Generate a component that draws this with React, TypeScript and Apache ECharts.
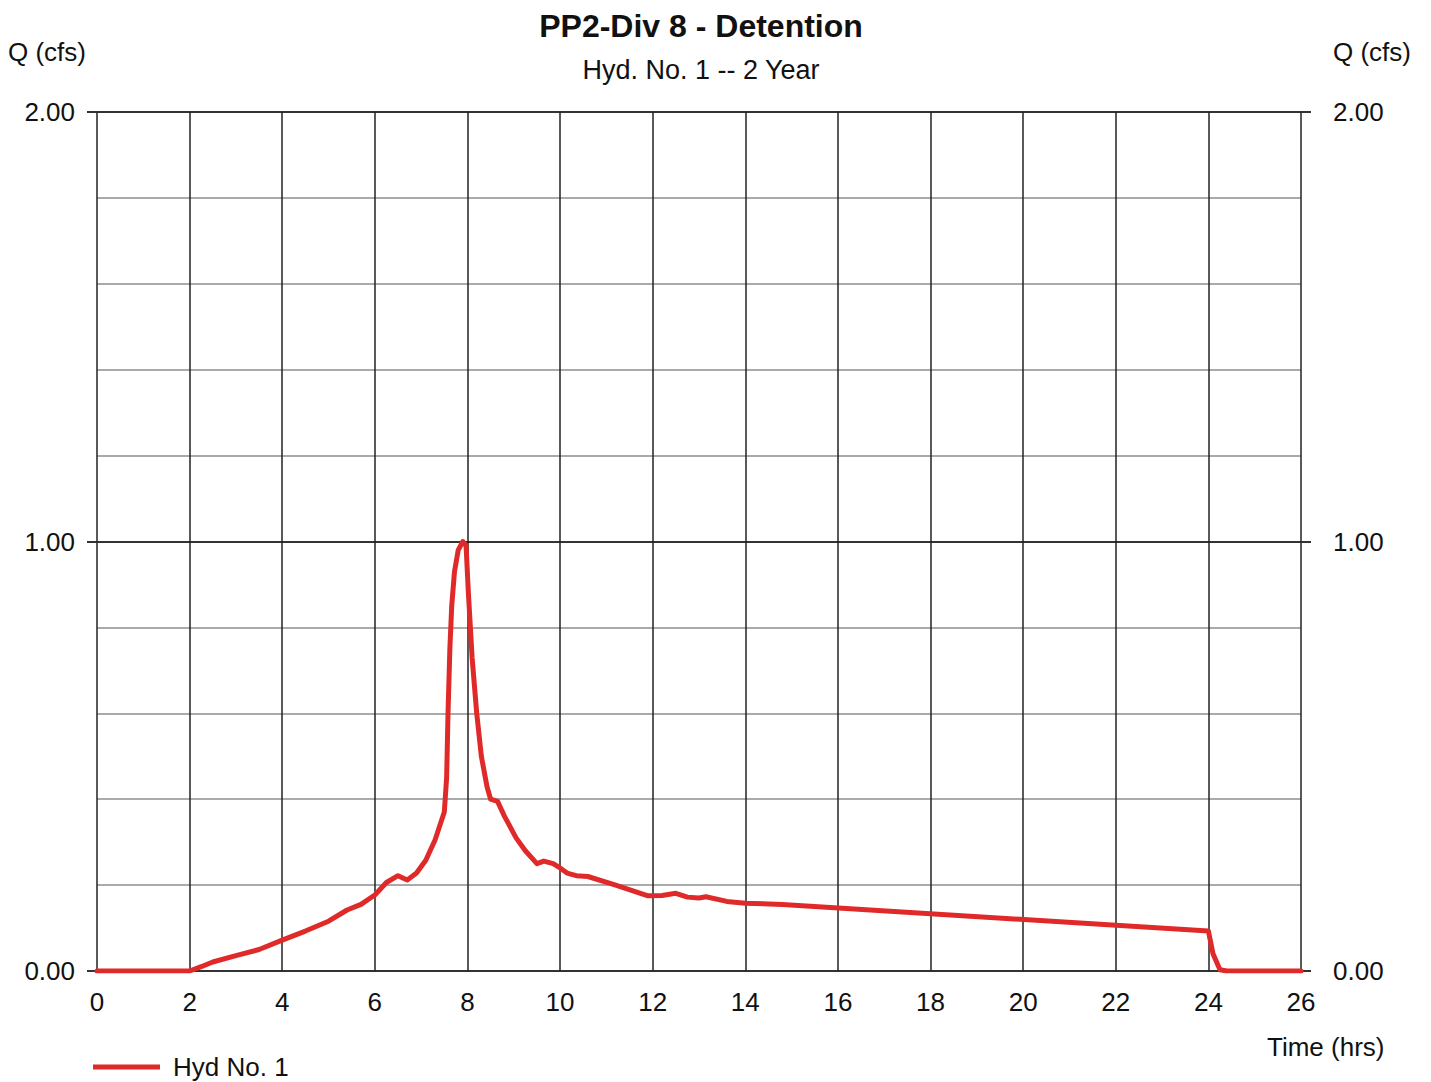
import React, { useEffect, useRef } from "react";
import * as echarts from "echarts";

const titleText = "PP2-Div 8 - Detention";
const subtitleText = "Hyd. No. 1 -- 2 Year";
const seriesName = "Hyd No. 1";

const timeHrs = [
  0, 2, 2.25, 2.5, 3, 3.5, 4, 4.5, 5, 5.4, 5.7, 6, 6.25, 6.5, 6.7, 6.9, 7.1, 7.3, 7.5,
  7.55, 7.58, 7.62, 7.66, 7.72, 7.8, 7.9, 7.97, 8.02, 8.1, 8.2, 8.3, 8.42, 8.5, 8.65,
  8.8, 9.05, 9.25, 9.5, 9.65, 9.85, 10.0, 10.15, 10.35, 10.6, 11.2, 11.9, 12.2, 12.5,
  12.75, 13.0, 13.15, 13.6, 14.0, 14.8, 24, 24.1, 24.25, 24.4, 26,
];
const flowCfs = [
  0, 0, 0.01, 0.021, 0.036, 0.05, 0.072, 0.093, 0.116, 0.142, 0.155, 0.177, 0.206, 0.222,
  0.212, 0.228, 0.258, 0.305, 0.37, 0.45, 0.6, 0.75, 0.85, 0.93, 0.98, 1.0, 0.99, 0.88,
  0.73, 0.6, 0.5, 0.43, 0.4, 0.395, 0.36, 0.31, 0.28, 0.25, 0.256, 0.25, 0.24, 0.228,
  0.222, 0.22, 0.2, 0.175, 0.176, 0.181, 0.172, 0.17, 0.173, 0.162, 0.158, 0.155, 0.093,
  0.04, 0.003, 0, 0,
];
const yLabelValues = [0, 1, 2];

const FONT = "'Liberation Sans', Arial, sans-serif";

export default function App() {
  const ref = useRef<HTMLDivElement>(null);
  useEffect(() => {
    if (!ref.current) return;
    const chart = echarts.init(ref.current, null, { renderer: "svg" });
    const data = timeHrs.map((t, i) => [t, flowCfs[i]]);
    const dark = "#333";
    const light = "#aaa";
    const splitColors = [dark, light, light, light, light, dark, light, light, light, light, dark];
    const labelAxis = (position: string, margin: number) => ({
      type: "value",
      position,
      min: 0,
      max: 2,
      interval: 0.2,
      axisLine: { show: false },
      axisTick: {
        show: true,
        customValues: yLabelValues,
        length: 10,
        lineStyle: { color: dark, width: 2 },
      },
      axisLabel: {
        customValues: yLabelValues,
        formatter: (v: number) => v.toFixed(2),
        fontFamily: FONT,
        fontSize: 26,
        color: "#111",
        margin,
      },
      splitLine: { show: false },
    });
    const plainTitle = (text: string, left: number, top: number) => ({
      text,
      left,
      top,
      padding: 0,
      textStyle: { fontFamily: FONT, fontSize: 26, fontWeight: "normal", color: "#111" },
    });
    chart.setOption({
      animation: false,
      backgroundColor: "#fff",
      textStyle: { fontFamily: FONT, color: "#111" },
      title: [
        {
          text: titleText,
          left: 701,
          top: 10,
          padding: 0,
          textAlign: "center",
          textStyle: { fontFamily: FONT, fontSize: 32, fontWeight: "bold", color: "#111" },
        },
        {
          text: subtitleText,
          left: 701,
          top: 56,
          padding: 0,
          textAlign: "center",
          textStyle: { fontFamily: FONT, fontSize: 27, fontWeight: "normal", color: "#111" },
        },
        plainTitle("Q (cfs)", 8, 39),
        plainTitle("Q (cfs)", 1333, 39),
        plainTitle("Time (hrs)", 1267, 1034),
      ],
      legend: {
        left: 93,
        top: 1054,
        padding: 0,
        icon: "rect",
        itemWidth: 67,
        itemHeight: 5,
        textStyle: { fontFamily: FONT, fontSize: 26, color: "#111", padding: [0, 0, 0, 8] },
        data: [seriesName],
      },
      grid: { left: 97, right: 130, top: 112, bottom: 111, containLabel: false },
      xAxis: {
        type: "value",
        min: 0,
        max: 26,
        interval: 2,
        axisLine: { show: false },
        axisTick: { show: false },
        axisLabel: { fontFamily: FONT, fontSize: 26, color: "#111", margin: 18 },
        splitLine: { show: true, lineStyle: { color: "#222", width: 1.5 } },
      },
      yAxis: [
        {
          type: "value",
          position: "left",
          min: 0,
          max: 2,
          interval: 0.2,
          axisLine: { show: false },
          axisTick: { show: false },
          axisLabel: { show: false },
          splitLine: { show: true, lineStyle: { color: splitColors, width: 2 } },
        },
        labelAxis("left", 22),
        labelAxis("right", 32),
      ],
      series: [
        {
          name: seriesName,
          type: "line",
          data,
          yAxisIndex: 0,
          showSymbol: false,
          symbol: "none",
          smooth: false,
          color: "#e02a2a",
          lineStyle: { color: "#e02a2a", width: 5, join: "round", cap: "round" },
          itemStyle: { color: "#e02a2a" },
          z: 5,
        },
      ],
    });
    return () => chart.dispose();
  }, []);
  return <div ref={ref} style={{ width: 1431, height: 1082, position: "absolute", left: 0, top: 0 }} />;
}
